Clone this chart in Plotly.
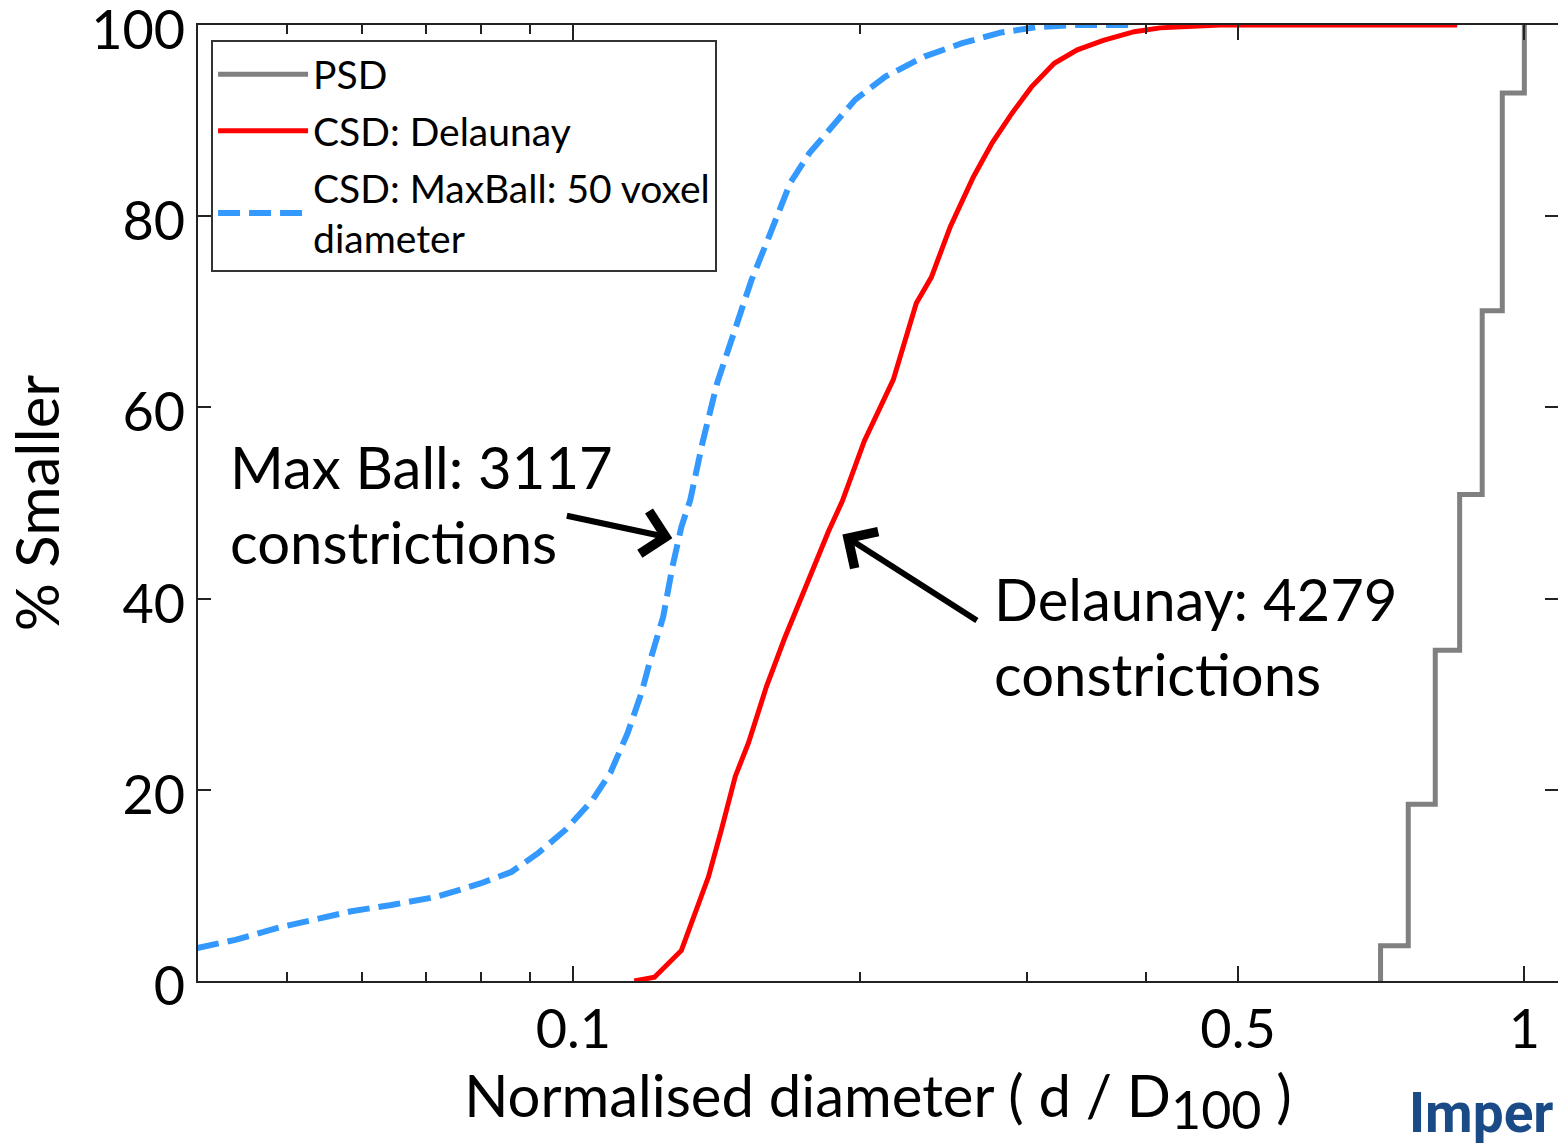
import plotly.graph_objects as go

# ---------------- data ----------------
psd_x = [0.706, 0.755, 0.806, 0.855, 0.903, 0.948, 1.0, 1.0]
psd_y = [0.0, 3.7, 18.5, 34.6, 50.9, 70.1, 92.9, 100.0]

delaunay_x = [0.1159, 0.1217, 0.1299, 0.1340, 0.1387, 0.1431, 0.1480, 0.1528,
              0.1596, 0.1667, 0.1720, 0.1797, 0.1854, 0.1918, 0.2023, 0.2170,
              0.2294, 0.2379, 0.2491, 0.2634, 0.2758, 0.2894, 0.3031,
              0.3204, 0.3388, 0.3608, 0.3889, 0.4141, 0.4790, 0.8500]
delaunay_y = [0.0, 0.4, 3.2, 6.7, 10.9, 15.8, 21.4, 24.9,
              30.8, 35.8, 39.1, 43.5, 47.0, 50.2, 56.5, 62.9,
              70.9, 73.6, 78.9, 84.1, 87.7, 90.8, 93.5,
              96.0, 97.4, 98.4, 99.3, 99.7, 100.0, 100.0]

maxball_x = [0.04022, 0.04411, 0.04908, 0.05472, 0.05843, 0.06436, 0.07177, 0.07984,
             0.08605, 0.09189, 0.09808, 0.1047, 0.1094, 0.1140, 0.1179, 0.1205,
             0.1243, 0.1271, 0.1299, 0.1327, 0.1367, 0.1417, 0.1470, 0.1539,
             0.1611, 0.1691, 0.1771, 0.1854, 0.1979, 0.2129, 0.2339, 0.2564,
             0.2812, 0.3083, 0.3388, 0.3852]
maxball_y = [3.45, 4.3, 5.6, 6.7, 7.3, 7.95, 8.8, 10.2,
             11.4, 13.4, 15.8, 18.9, 21.8, 25.9, 30.1, 33.6,
             38.1, 43.3, 47.5, 50.3, 56.3, 62.6, 67.4, 73.3,
             78.2, 83.5, 86.6, 89.0, 92.2, 94.6, 96.7, 98.1,
             99.2, 99.8, 100.0, 100.0]

x_major = [0.1, 0.5, 1]
x_major_text = ["0.1", "0.5", "1"]
x_minor = [0.05, 0.06, 0.07, 0.08, 0.09, 0.2, 0.3, 0.4]
y_ticks = [0, 20, 40, 60, 80, 100]

FONT = "Lato"

fig = go.Figure()
fig.add_trace(go.Scatter(x=psd_x, y=psd_y, mode="lines", name="PSD", legendgroup="a",
                         line=dict(color="#808080", width=5, shape="vh")))
fig.add_trace(go.Scatter(x=delaunay_x, y=delaunay_y, mode="lines", name="CSD: Delaunay",
                         legendgroup="b", line=dict(color="#ff0000", width=5)))
fig.add_trace(go.Scatter(x=maxball_x, y=maxball_y, mode="lines", legendgroup="c",
                         name="CSD: MaxBall: 50 voxel<br>diameter",
                         line=dict(color="#3399ff", width=6, dash="22px,9px")))

fig.update_layout(
    width=1558, height=1144,
    margin=dict(l=198, r=0, t=25, b=163),
    paper_bgcolor="white", plot_bgcolor="white",
    font=dict(family=FONT, color="black"),
    showlegend=True,
    legend=dict(x=0.0096, y=0.984, xanchor="left", yanchor="top",
                bgcolor="white", bordercolor="#333333", borderwidth=2,
                font=dict(size=39, family=FONT), itemwidth=90,
                tracegroupgap=3),
    xaxis=dict(type="log", range=[-1.3947, 0.0354], automargin=False,
               tickmode="array", tickvals=x_major, ticktext=x_major_text,
               ticks="inside", ticklen=15, tickwidth=2, tickcolor="#222",
               minor=dict(tickmode="array", tickvals=x_minor, ticks="inside",
                          ticklen=9, tickwidth=2, tickcolor="#222"),
               showline=True, linecolor="#222", linewidth=2, mirror="ticks",
               showgrid=False, zeroline=False,
               tickfont=dict(size=54, family=FONT),
               title=dict(text="Normalised diameter ( d / D<sub><span style=\"font-size:52px\">100</span></sub> )",
                          font=dict(size=58, family=FONT), standoff=6)),
    yaxis=dict(range=[0, 100], tickmode="array", tickvals=y_ticks, automargin=False,
               ticks="inside", ticklen=13, tickwidth=2, tickcolor="#222",
               showline=True, linecolor="#222", linewidth=2, mirror="ticks",
               showgrid=False, zeroline=False, ticklabeloverflow="allow",
               ticklabelshift=5,
               tickfont=dict(size=54, family=FONT),
               title=dict(text="% Smaller", font=dict(size=60, family=FONT), standoff=44)),
)

# arrows
fig.add_annotation(x=-0.8959, y=46.3, xref="x", yref="y", text="", showarrow=True,
                   ax=-107, ay=-23, arrowhead=4, arrowsize=1.4, arrowwidth=6,
                   arrowcolor="black")
fig.add_annotation(x=-0.7171, y=46.7, xref="x", yref="y", text="", showarrow=True,
                   ax=136, ay=87, arrowhead=4, arrowsize=1.4, arrowwidth=6,
                   arrowcolor="black")

# text annotations
fig.add_annotation(x=(228 - 198) / 1360, y=(981 - 430) / 956, xref="paper", yref="paper",
                   xanchor="left", yanchor="top", align="left", showarrow=False,
                   text="Max Ball: 3117<br>constrictions",
                   font=dict(size=58, family=FONT, color="black"))
fig.add_annotation(x=(992 - 198) / 1360, y=(981 - 562) / 956, xref="paper", yref="paper",
                   xanchor="left", yanchor="top", align="left", showarrow=False,
                   text="Delaunay: 4279<br>constrictions",
                   font=dict(size=58, family=FONT, color="black"))

# partial logo text
fig.add_annotation(x=(1407 - 198) / 1360, y=(981 - 1113) / 956, xref="paper", yref="paper",
                   xanchor="left", yanchor="middle", showarrow=False,
                   text="<b>Imper</b>",
                   font=dict(size=55, family="Roboto", color="#1b4b86"))

fig.write_html("out.html")
